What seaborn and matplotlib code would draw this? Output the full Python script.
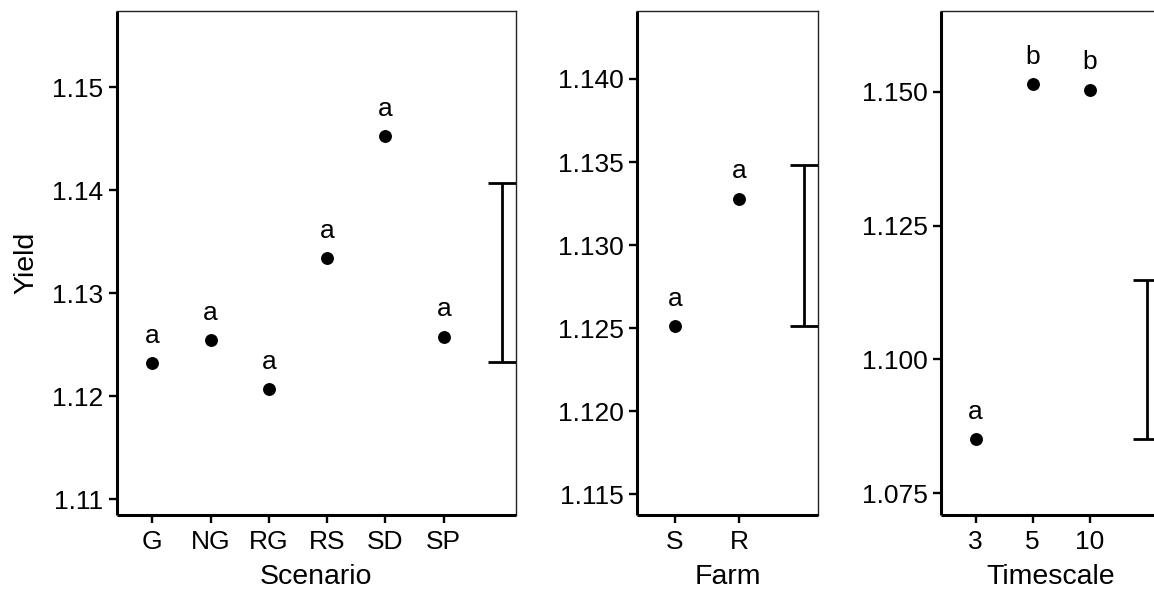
import numpy as np
import pandas as pd
import matplotlib
matplotlib.use("Agg")
import matplotlib.pyplot as plt
import seaborn as sns

# Mean yield per factor level with Tukey-style group letters
scenario_levels = ["G", "NG", "RG", "RS", "SD", "SP"]
scenario_yield = [1.1232, 1.1255, 1.1207, 1.1334, 1.1453, 1.1258]
scenario_letters = ["a", "a", "a", "a", "a", "a"]
scenario_lsd = [1.1233, 1.1407]

farm_levels = ["S", "R"]
farm_yield = [1.1251, 1.1328]
farm_letters = ["a", "a"]
farm_lsd = [1.1251, 1.1348]

timescale_levels = ["3", "5", "10"]
timescale_yield = [1.0851, 1.1514, 1.1504]
timescale_letters = ["a", "b", "b"]
timescale_lsd = [1.0852, 1.1149]

sns.set_theme(style="ticks")
plt.rcParams["font.family"] = ["Liberation Sans", "DejaVu Sans"]

FIG_W, FIG_H = 1154, 592
fig = plt.figure(figsize=(FIG_W / 100, FIG_H / 100), dpi=100)

TICK_FS = 19
TITLE_FS = 20.5

panels = [
    dict(levels=scenario_levels, values=scenario_yield, letters=scenario_letters,
         lsd=scenario_lsd, xlabel="Scenario", ylabel="Yield",
         box=(116.7, 515.7), xlim=(-0.61, 6.233), ylim=(1.10848, 1.15744),
         yticks=np.arange(1.11, 1.1501, 0.01), fmt="{:.2f}"),
    dict(levels=farm_levels, values=farm_yield, letters=farm_letters,
         lsd=farm_lsd, xlabel="Farm", ylabel=None,
         box=(637.3, 818.3), xlim=(-0.586, 2.229), ylim=(1.11375, 1.14411),
         yticks=np.arange(1.115, 1.14001, 0.005), fmt="{:.3f}"),
    dict(levels=timescale_levels, values=timescale_yield, letters=timescale_letters,
         lsd=timescale_lsd, xlabel="Timescale", ylabel=None,
         box=(940.7, 1161.0), xlim=(-0.61, 3.245), ylim=(1.07095, 1.16513),
         yticks=np.arange(1.075, 1.15001, 0.025), fmt="{:.3f}"),
]

top_px, bottom_px = 10.7, 515.0
for p in panels:
    x0, x1 = p["box"]
    ax = fig.add_axes([x0 / FIG_W, (FIG_H - bottom_px) / FIG_H,
                       (x1 - x0) / FIG_W, (bottom_px - top_px) / FIG_H])
    df = pd.DataFrame({"level": p["levels"], "value": p["values"]})
    sns.stripplot(data=df, x="level", y="value", order=p["levels"],
                  jitter=False, color="black", size=9.3, linewidth=0, ax=ax)

    # least significant difference bar to the right of the levels
    n = len(p["levels"])
    lo, hi = p["lsd"]
    ax.errorbar([n], [(lo + hi) / 2], yerr=[(hi - lo) / 2], fmt="none",
                ecolor="black", elinewidth=2.0, capsize=10, capthick=2.0,
                clip_on=False)

    for i, (v, letter) in enumerate(zip(p["values"], p["letters"])):
        ax.annotate(letter, (i, v), xytext=(0, 14.5), textcoords="offset points",
                    ha="center", va="baseline", fontsize=TICK_FS, color="black")

    ax.set_xlim(*p["xlim"])
    ax.set_ylim(*p["ylim"])
    ax.set_yticks(p["yticks"])
    ax.set_yticklabels([p["fmt"].format(t) for t in p["yticks"]])
    ax.set_xticks(range(n))
    ax.set_xticklabels(p["levels"])
    ax.minorticks_off()

    ax.set_xlabel(p["xlabel"], fontsize=TITLE_FS, labelpad=7, color="black")
    if p["ylabel"]:
        ax.set_ylabel(p["ylabel"], fontsize=TITLE_FS, labelpad=9, color="black")
    else:
        ax.set_ylabel("")

    ax.tick_params(axis="both", which="major", labelsize=TICK_FS, colors="black",
                   length=5.5, width=1.7)
    ax.tick_params(axis="x", pad=5.5)
    ax.tick_params(axis="y", pad=4)
    for side in ("left", "bottom"):
        ax.spines[side].set_linewidth(2.2)
        ax.spines[side].set_color("black")
        ax.spines[side].set_capstyle("butt")
    for side in ("top", "right"):
        ax.spines[side].set_visible(True)
        ax.spines[side].set_linewidth(1.0)
        ax.spines[side].set_color("#222222")
    ax.set_facecolor("white")

fig.savefig("out.png", dpi=100, facecolor="white")
